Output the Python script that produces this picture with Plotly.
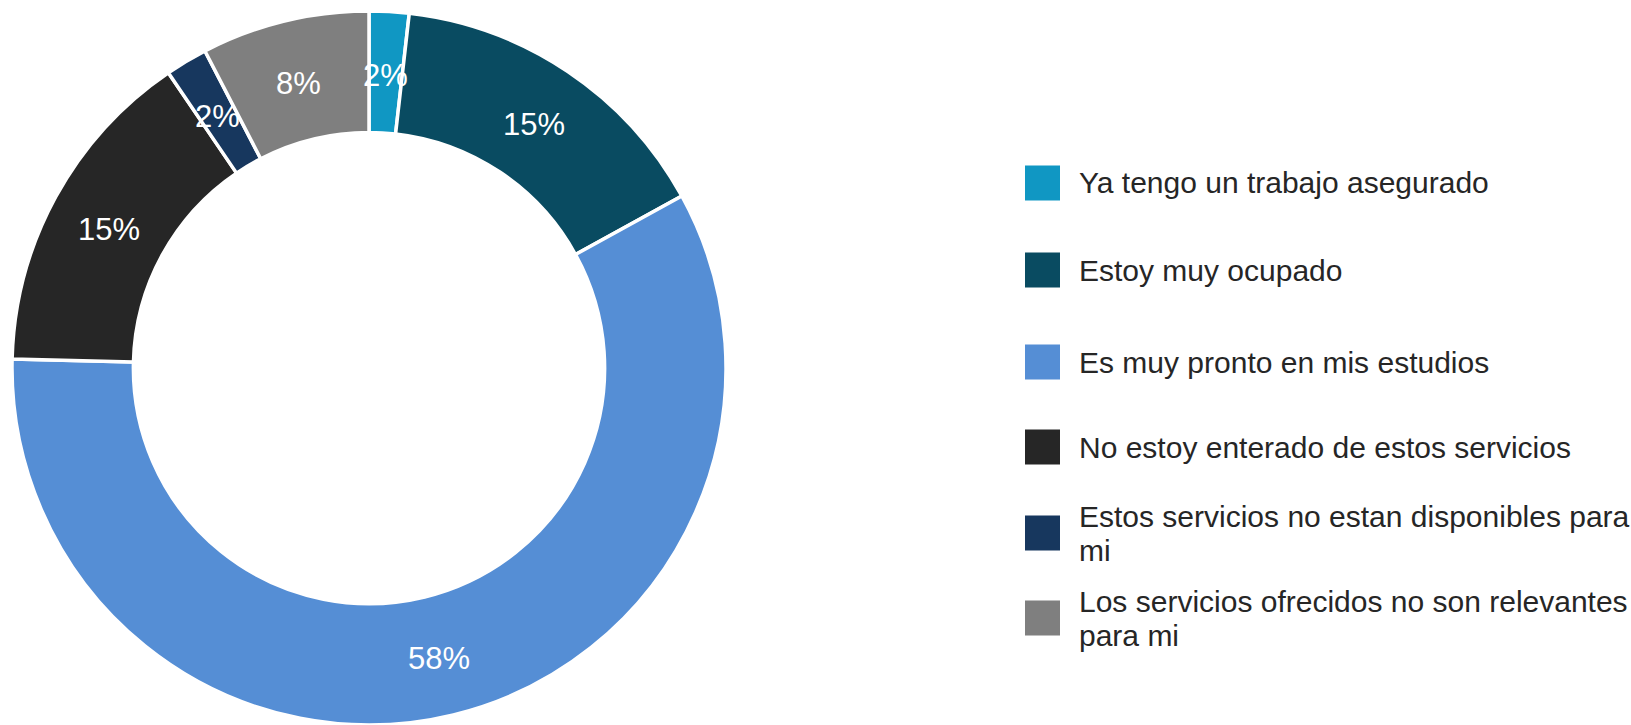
import math
import textwrap
import plotly.graph_objects as go

# Survey answers (share of respondents, %)
labels = [
    "Ya tengo un trabajo asegurado",
    "Estoy muy ocupado",
    "Es muy pronto en mis estudios",
    "No estoy enterado de estos servicios",
    "Estos servicios no estan disponibles para mi",
    "Los servicios ofrecidos no son relevantes para mi",
]
values = [1.8, 15.2, 58.4, 15.1, 1.9, 7.6]
colors = ["#1097C3", "#094B61", "#558ED5", "#262626", "#17375E", "#7F7F7F"]

W, H = 1631, 725
FONT = "Liberation Sans, Arial, sans-serif"

# donut geometry in pixels
cx, cy = 369, 368          # centre, measured from the top
R = 357
hole = 0.66

fig = go.Figure()
fig.add_trace(go.Pie(
    labels=labels,
    values=values,
    sort=False,
    direction="clockwise",
    rotation=0,
    hole=hole,
    marker=dict(colors=colors, line=dict(color="white", width=3.5)),
    textinfo="none",
    hoverinfo="label+percent",
    showlegend=False,
    domain=dict(x=[max(0, (cx - R) / W), (cx + R) / W],
                y=[max(0, (H - cy - R) / H), min(1, (H - cy + R) / H)]),
))

# percentage labels centred on each ring segment
total = sum(values)
r_lab = R * (1 + hole) / 2
text_drop = 3
cum = 0.0
for v in values:
    theta = 2 * math.pi * (cum + v / 2) / total
    cum += v
    px = cx + r_lab * math.sin(theta)
    py = (H - cy) + r_lab * math.cos(theta) - text_drop
    fig.add_annotation(
        x=px / W, y=py / H, xref="paper", yref="paper",
        text=f"{round(100 * v / total)}%", showarrow=False,
        font=dict(family=FONT, size=31, color="white"),
        xanchor="center", yanchor="middle",
    )

# legend: coloured squares with wrapped captions
leg_x0, leg_sq = 1025, 35
text_x = 1077
row_centres = [183, 270, 362, 447, 533, 618]
line_gap = 34
for lab, col, yc in zip(labels, colors, row_centres):
    fig.add_shape(
        type="rect", xref="paper", yref="paper",
        x0=leg_x0 / W, x1=(leg_x0 + leg_sq) / W,
        y0=(H - yc - leg_sq / 2) / H, y1=(H - yc + leg_sq / 2) / H,
        fillcolor=col, line=dict(width=0),
    )
    lines = textwrap.wrap(lab, width=41)
    n = len(lines)
    for j, ln in enumerate(lines):
        ly = yc + (j - (n - 1) / 2) * line_gap
        fig.add_annotation(
            x=text_x / W, y=(H - ly) / H, xref="paper", yref="paper",
            text=ln, showarrow=False,
            font=dict(family=FONT, size=30, color="#262626"),
            xanchor="left", yanchor="middle",
        )

fig.update_layout(
    width=W, height=H,
    margin=dict(l=0, r=0, t=0, b=0),
    paper_bgcolor="white",
    plot_bgcolor="white",
)

fig.write_html("out.html")
